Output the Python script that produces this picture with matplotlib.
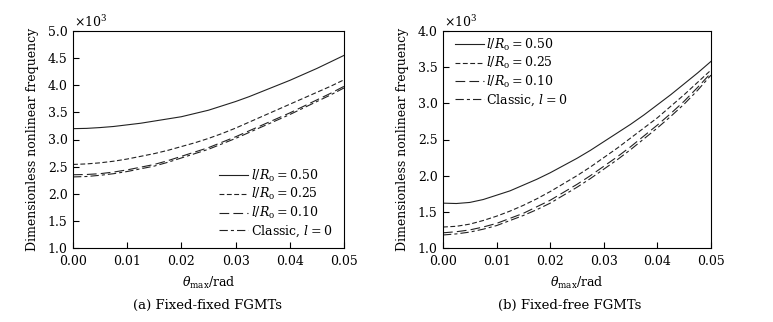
import matplotlib
matplotlib.use("Agg")
import matplotlib.pyplot as plt
import numpy as np

theta = [0.0, 0.0025, 0.005, 0.0075, 0.01, 0.0125, 0.015, 0.0175, 0.02, 0.0225, 0.025,
         0.0275, 0.03, 0.0325, 0.035, 0.0375, 0.04, 0.0425, 0.045, 0.0475, 0.05]

# (a) Fixed-fixed FGMTs (x10^3)
ff_050 = [3.20, 3.205, 3.22, 3.24, 3.27, 3.30, 3.34, 3.38, 3.42, 3.48, 3.54,
          3.62, 3.70, 3.79, 3.89, 3.99, 4.09, 4.20, 4.31, 4.43, 4.55]
ff_025 = [2.54, 2.55, 2.57, 2.60, 2.64, 2.69, 2.74, 2.80, 2.87, 2.94, 3.02,
          3.11, 3.21, 3.32, 3.43, 3.54, 3.65, 3.76, 3.87, 3.98, 4.10]
ff_010 = [2.35, 2.355, 2.37, 2.40, 2.44, 2.49, 2.54, 2.61, 2.69, 2.77, 2.85,
          2.95, 3.05, 3.16, 3.27, 3.38, 3.49, 3.61, 3.73, 3.85, 3.98]
ff_cls = [2.31, 2.318, 2.34, 2.37, 2.41, 2.46, 2.51, 2.58, 2.66, 2.74, 2.82,
          2.92, 3.02, 3.13, 3.24, 3.35, 3.46, 3.58, 3.70, 3.82, 3.95]

# (b) Fixed-free FGMTs (x10^3)
fr_050 = [1.62, 1.615, 1.63, 1.67, 1.73, 1.79, 1.87, 1.95, 2.04, 2.14, 2.24,
          2.35, 2.47, 2.59, 2.71, 2.84, 2.98, 3.12, 3.27, 3.42, 3.58]
fr_025 = [1.29, 1.30, 1.33, 1.38, 1.44, 1.51, 1.59, 1.68, 1.78, 1.89, 2.00,
          2.12, 2.25, 2.38, 2.52, 2.66, 2.80, 2.96, 3.12, 3.29, 3.46]
fr_010 = [1.21, 1.225, 1.25, 1.29, 1.34, 1.41, 1.48, 1.57, 1.66, 1.77, 1.88,
          2.00, 2.13, 2.26, 2.40, 2.55, 2.70, 2.86, 3.03, 3.22, 3.42]
fr_cls = [1.18, 1.195, 1.22, 1.26, 1.31, 1.38, 1.45, 1.53, 1.62, 1.73, 1.84,
          1.96, 2.09, 2.22, 2.36, 2.51, 2.66, 2.82, 2.99, 3.18, 3.39]

labels = [r'$l/R_{\mathrm{o}}=0.50$', r'$l/R_{\mathrm{o}}=0.25$',
          r'$l/R_{\mathrm{o}}=0.10$', r'Classic, $l=0$']
xticks = [0.00, 0.01, 0.02, 0.03, 0.04, 0.05]

plt.rcParams['font.family'] = ['DejaVu Serif']
plt.rcParams['mathtext.fontset'] = 'dejavuserif'
plt.rcParams['font.size'] = 9
plt.rcParams['lines.scale_dashes'] = False

fig = plt.figure(figsize=(7.73, 3.22), dpi=100)
axa = fig.add_axes([73/773, 74/322, 271/773, 217/322])
axb = fig.add_axes([443/773, 74/322, 268/773, 217/322])

styles = [dict(ls='-'), dict(dashes=(3.5, 1.8)), dict(dashes=(7, 3)), dict(dashes=(6, 2.2, 2.2, 2.2))]

def draw(ax, series, ylim, yticks, legend_anchor):
    for s, st, lab in zip(series, styles, labels):
        ax.plot(theta, s, color='#222222', lw=0.8, label=lab, **st)
    ax.set_xlim(0, 0.05)
    ax.set_ylim(*ylim)
    ax.set_xticks(xticks)
    ax.set_xticklabels([f'{t:.2f}' for t in xticks])
    ax.set_yticks(yticks)
    ax.set_yticklabels([f'{t:.1f}' for t in yticks])
    ax.tick_params(axis='x', direction='in', length=4, width=0.8, pad=5)
    ax.tick_params(axis='y', direction='in', length=4, width=0.8, pad=4)
    for sp in ax.spines.values():
        sp.set_linewidth(0.8)
    ax.set_ylabel('Dimensionless nonlinear frequency', labelpad=6)
    ax.set_xlabel(r'$\theta_{\mathrm{max}}$/rad', labelpad=5)
    ax.text(0.005, 1.005, r'$\times10^3$', transform=ax.transAxes, ha='left', va='bottom')
    ax.legend(loc='upper left', bbox_to_anchor=legend_anchor, frameon=False,
              borderpad=0, borderaxespad=0, handlelength=2.3, handletextpad=0.2,
              labelspacing=0.2)

draw(axa, [ff_050, ff_025, ff_010, ff_cls], (1.0, 5.0), np.arange(1.0, 5.01, 0.5), (0.54, 0.37))
draw(axb, [fr_050, fr_025, fr_010, fr_cls], (1.0, 4.0), np.arange(1.0, 4.01, 0.5), (0.045, 0.975))

fig.text(208/773, 1 - 305/322, '(a) Fixed-fixed FGMTs', ha='center', va='center', fontsize=9.5)
fig.text(570/773, 1 - 305/322, '(b) Fixed-free FGMTs', ha='center', va='center', fontsize=9.5)

fig.savefig('out.png', dpi=100)
